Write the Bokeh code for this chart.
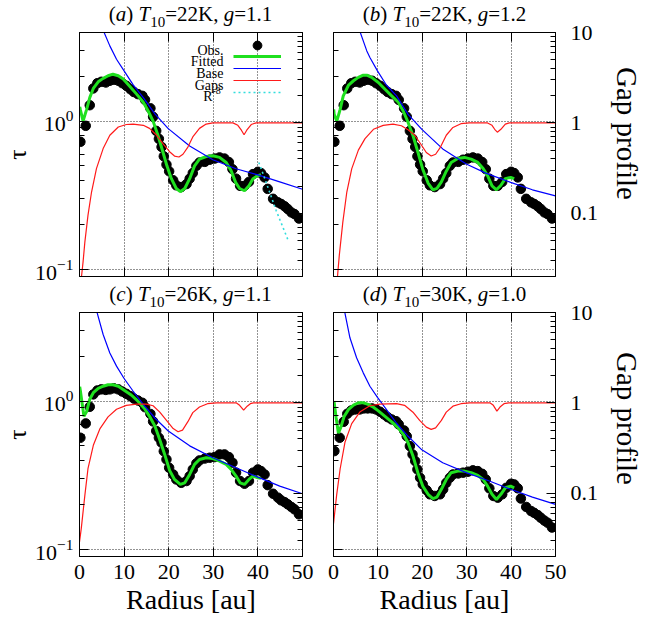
from bokeh.plotting import figure
from bokeh.layouts import column, row
from bokeh.models import (Range1d, LogScale, LogAxis, LinearAxis, FixedTicker,
                          CustomJSTickFormatter, Label, Legend, LegendItem, Div)
from bokeh.embed import file_html
from bokeh.resources import INLINE

SERIF = "Liberation Serif"

# ---------------------------------------------------------------- data
# radii of the observed optical-depth profile (au), same sampling for all fits
R_OBS = [0.2, 1.4, 2.3, 3.1, 4.0, 4.9, 5.9, 6.8, 7.7, 8.7,
         9.6, 10.5, 11.4, 12.2, 13.1, 14.1, 14.7, 15.9, 16.5, 17.2,
         17.8, 18.4, 18.9, 19.5, 20.1, 21.0, 21.7, 22.8, 24.0, 24.7,
         25.4, 26.2, 26.9, 28.1, 29.2, 30.3, 31.4, 32.5, 33.5, 34.3,
         35.1, 36.0, 37.0, 38.0, 38.9, 40.0, 40.7, 41.5, 42.2, 43.4,
         44.5, 45.2, 46.0, 46.7, 47.5, 48.2, 49.2]

# observed tau for T10 = 22 K (panels a, b), 26 K (c), 30 K (d)
TAU_OBS_22K = [0.726, 0.93, 1.28, 1.66, 1.80, 1.84, 1.82, 1.87, 1.90, 1.87,
               1.80, 1.73, 1.64, 1.57, 1.52, 1.48, 1.39, 1.22, 1.07, 0.86,
               0.76, 0.67, 0.58, 0.51, 0.46, 0.40, 0.37, 0.36, 0.377, 0.41,
               0.447, 0.50, 0.527, 0.532, 0.55, 0.56, 0.57, 0.56, 0.53, 0.475,
               0.41, 0.367, 0.367, 0.39, 0.44, 0.456, 0.447, 0.418, 0.35, 0.30,
               0.284, 0.277, 0.267, 0.256, 0.243, 0.237, 0.221]
TAU_OBS_26K = [0.567, 0.708, 0.916, 1.11, 1.18, 1.20, 1.19, 1.20, 1.22, 1.20,
               1.16, 1.12, 1.08, 1.04, 1.01, 0.975, 0.91, 0.82, 0.73, 0.63,
               0.567, 0.525, 0.46, 0.405, 0.356, 0.321, 0.297, 0.282, 0.29, 0.313,
               0.347, 0.381, 0.399, 0.411, 0.416, 0.42, 0.438, 0.438, 0.42, 0.385,
               0.33, 0.29, 0.278, 0.29, 0.33, 0.347, 0.338, 0.321, 0.272, 0.238,
               0.224, 0.215, 0.209, 0.202, 0.194, 0.187, 0.173]
TAU_OBS_30K = [0.461, 0.567, 0.726, 0.822, 0.865, 0.879, 0.879, 0.893, 0.893, 0.893,
               0.879, 0.848, 0.813, 0.78, 0.753, 0.733, 0.697, 0.635, 0.58, 0.498,
               0.438, 0.395, 0.347, 0.305, 0.275, 0.251, 0.236, 0.23, 0.236, 0.255,
               0.282, 0.305, 0.321, 0.326, 0.33, 0.335, 0.342, 0.338, 0.324, 0.297,
               0.259, 0.23, 0.224, 0.236, 0.261, 0.278, 0.275, 0.259, 0.221, 0.194,
               0.182, 0.177, 0.171, 0.164, 0.157, 0.152, 0.141]

# fitted profiles (Base x Gaps)
FIT_R_A = [0.05, 0.2, 0.8, 1.6, 2.3, 3.1, 4.2, 5.3, 6.4, 7.5, 8.7, 9.8, 11.3, 12.8,
           14.3, 15.4, 16.5, 17.6, 18.7, 19.6, 20.6, 21.7, 22.6, 23.6, 24.7, 25.8,
           26.9, 28.4, 29.9, 31.4, 32.9, 34.0, 35.0, 35.9, 37.0, 38.0, 38.9, 40.0, 40.7]
FIT_A = [1.25, 1.19, 1.0, 1.2, 1.44, 1.66, 1.84, 1.94, 2.02, 2.07, 2.02, 1.92, 1.71, 1.52,
         1.34, 1.17, 1.0, 0.80, 0.62, 0.50, 0.41, 0.352, 0.335, 0.352, 0.41, 0.50,
         0.555, 0.578, 0.585, 0.57, 0.527, 0.463, 0.387, 0.352, 0.34, 0.367, 0.41, 0.43, 0.436]
FIT_R_B = [0.05, 0.15, 0.75, 1.5, 2.2, 3.4, 4.5, 5.6, 6.7, 7.5, 8.6, 10.1, 11.6, 13.1,
           14.6, 15.7, 16.8, 17.9, 19.0, 20.1, 21.3, 22.4, 23.3, 24.3, 25.4, 26.5,
           28.0, 29.5, 31.0, 32.5, 33.7, 34.7, 35.7, 36.7, 37.7, 38.7, 39.9, 40.7]
FIT_B = [1.2, 1.11, 1.0, 1.2, 1.48, 1.75, 1.87, 1.97, 2.04, 2.04, 1.97, 1.82, 1.64, 1.48,
         1.34, 1.17, 0.98, 0.80, 0.62, 0.475, 0.383, 0.345, 0.353, 0.39, 0.46, 0.527,
         0.56, 0.57, 0.555, 0.527, 0.48, 0.43, 0.367, 0.345, 0.37, 0.41, 0.418, 0.41]
FIT_R_C = [0.05, 0.2, 1.0, 1.6, 2.3, 3.1, 4.2, 5.3, 6.4, 7.5, 8.7, 10.1, 11.6, 13.1,
           14.6, 15.7, 16.9, 18.0, 19.1, 20.2, 21.3, 22.6, 23.6, 24.7, 25.8, 26.9,
           28.4, 29.9, 31.4, 32.9, 34.0, 35.1, 36.0, 37.0, 38.0, 38.9, 40.0, 40.7]
FIT_C = [1.25, 1.17, 0.79, 0.85, 1.03, 1.14, 1.22, 1.26, 1.29, 1.29, 1.26, 1.18, 1.10, 1.0,
         0.89, 0.79, 0.68, 0.55, 0.438, 0.342, 0.297, 0.275, 0.282, 0.321, 0.375, 0.405,
         0.416, 0.411, 0.395, 0.375, 0.347, 0.313, 0.282, 0.275, 0.297, 0.313, 0.305, 0.302]
FIT_R_D = [0.05, 0.15, 0.6, 1.1, 1.6, 2.4, 3.4, 4.5, 5.6, 6.7, 7.8, 9.0, 10.1, 11.6,
           13.1, 14.6, 15.7, 16.8, 17.9, 19.0, 20.1, 21.3, 22.4, 23.3, 24.3, 25.4,
           26.5, 28.0, 29.5, 31.0, 32.5, 33.7, 34.7, 35.7, 36.7, 37.7, 38.7, 39.9, 40.7]
FIT_D = [1.0, 0.98, 0.77, 0.61, 0.66, 0.79, 0.88, 0.94, 0.975, 0.975, 0.95, 0.91, 0.86, 0.79,
         0.726, 0.66, 0.60, 0.525, 0.427, 0.33, 0.268, 0.236, 0.221, 0.226, 0.255, 0.297,
         0.33, 0.338, 0.338, 0.33, 0.316, 0.297, 0.268, 0.236, 0.218, 0.236, 0.261, 0.268, 0.261]

# smooth base profiles
BASE_R_A = [5.0, 6.8, 8.3, 10.0, 12.0, 14.3, 16.9, 19.9, 24.7, 29.9, 35.1, 40.0, 44.9, 50.0]
BASE_A = [4.3, 3.21, 2.61, 2.18, 1.76, 1.44, 1.12, 0.89, 0.68, 0.55, 0.478, 0.435, 0.39, 0.348]
BASE_R_B = [5.6, 7.5, 8.2, 9.9, 11.9, 14.2, 16.8, 19.9, 24.6, 29.9, 34.3, 39.9, 44.8, 50.0]
BASE_B = [4.3, 2.97, 2.68, 2.18, 1.75, 1.48, 1.11, 0.88, 0.65, 0.514, 0.447, 0.387, 0.345, 0.314]
BASE_R_C = [3.6, 5.3, 6.8, 8.3, 10.0, 12.0, 14.3, 16.9, 19.9, 24.7, 29.9, 35.1, 40.0, 44.9, 50.0]
BASE_C = [4.3, 2.81, 2.11, 1.72, 1.42, 1.17, 0.95, 0.77, 0.63, 0.50, 0.416, 0.356, 0.308, 0.268, 0.238]
BASE_R_D = [2.3, 3.7, 5.2, 6.7, 8.2, 9.9, 11.9, 14.2, 16.8, 19.9, 24.6, 29.9, 35.1, 39.9, 44.8, 50.0]
BASE_D = [4.3, 2.67, 1.96, 1.55, 1.26, 1.06, 0.88, 0.71, 0.58, 0.47, 0.385, 0.33, 0.29, 0.255, 0.226, 0.202]

# gap profiles (right-hand axis)
GAP_R_A = [0.3, 0.45, 0.8, 1.2, 1.9, 2.7, 3.8, 5.3, 6.8, 8.7, 10.5, 12.0, 14.3, 15.7, 17.2,
           18.7, 20.2, 21.3, 22.3, 23.2, 24.3, 25.4, 26.9, 28.4, 29.9, 34.4, 35.5, 36.3,
           36.9, 37.5, 38.5, 39.6, 50.0]
GAP_A = [0.012, 0.02, 0.029, 0.048, 0.095, 0.172, 0.312, 0.52, 0.73, 0.90, 0.96, 0.97, 0.94,
         0.87, 0.74, 0.59, 0.48, 0.43, 0.42, 0.45, 0.54, 0.70, 0.87, 0.97, 1.0, 1.0, 0.94,
         0.83, 0.74, 0.83, 0.96, 1.0, 1.0]
GAP_R_B = [0.7, 0.9, 1.3, 2.1, 3.0, 4.1, 5.6, 7.1, 9.0, 11.2, 13.4, 15.3, 16.8, 18.3, 19.8,
           20.9, 22.0, 23.0, 24.1, 25.4, 26.9, 28.7, 30.6, 34.7, 35.7, 36.3, 36.9, 37.7,
           38.7, 39.6, 50.0]
GAP_B = [0.014, 0.02, 0.034, 0.080, 0.172, 0.31, 0.50, 0.67, 0.85, 0.94, 0.97, 0.93, 0.84,
         0.73, 0.57, 0.47, 0.43, 0.45, 0.54, 0.73, 0.89, 0.98, 1.0, 1.0, 0.94, 0.85, 0.79,
         0.85, 0.97, 1.0, 1.0]
GAP_R_C = [0.0, 0.4, 1.2, 1.9, 3.1, 4.6, 6.4, 8.3, 10.5, 12.8, 15.0, 16.5, 18.0, 19.5, 21.0,
           22.1, 23.1, 24.3, 25.4, 26.9, 28.7, 30.7, 35.2, 35.9, 36.8, 37.6, 38.3, 39.0, 50.0]
GAP_C = [0.029, 0.041, 0.095, 0.187, 0.34, 0.52, 0.70, 0.85, 0.94, 0.97, 0.97, 0.93, 0.79,
         0.64, 0.52, 0.48, 0.50, 0.62, 0.78, 0.90, 0.98, 1.0, 1.0, 0.94, 0.83, 0.92, 0.98,
         1.0, 1.0]
GAP_R_D = [0.0, 0.7, 1.5, 2.6, 4.1, 6.0, 8.2, 10.4, 14.2, 16.0, 17.9, 19.4, 20.9, 22.0, 23.0,
           24.3, 25.4, 26.9, 28.7, 30.7, 35.3, 36.0, 36.8, 37.5, 38.4, 39.5, 50.0]
GAP_D = [0.046, 0.095, 0.187, 0.37, 0.59, 0.80, 0.93, 0.97, 0.98, 0.94, 0.79, 0.64, 0.54,
         0.51, 0.53, 0.64, 0.79, 0.92, 0.98, 1.0, 1.0, 0.94, 0.81, 0.90, 0.98, 1.0, 1.0]

# steep R^-8 outer edge shown in panel (a)
R8_R = [40.2, 41.3, 44.1, 46.7]
R8_TAU = [0.527, 0.43, 0.25, 0.16]

PANEL_TAGS = ["a", "b", "c", "d"]
PANEL_T10 = [22, 22, 26, 30]
PANEL_G = ["1.1", "1.2", "1.1", "1.0"]

X_TICKS = [0, 10, 20, 30, 40, 50]
TAU_TICKS = [0.1, 1]
TAU_MINOR = [0.2, 0.3, 0.4, 0.5, 0.6, 0.7, 0.8, 0.9, 2, 3]
GAP_TICKS = [0.1, 1, 10]
GAP_MINOR = [0.03, 0.04, 0.05, 0.06, 0.07, 0.08, 0.09,
             0.2, 0.3, 0.4, 0.5, 0.6, 0.7, 0.8, 0.9,
             2, 3, 4, 5, 6, 7, 8, 9]

# ---------------------------------------------------------------- layout
TAU_LO, TAU_HI = 0.09, 3.95
GAP_LO, GAP_HI = 0.02, 10.0
FRAME_W, FRAME_H = 223, 244
LEFT_W, RIGHT_W, GAPLABEL_W = 318, 283, 45
BORDER_TOP = 12
BORDER_BOTTOM = [8, 72]
TITLE_H = [20, 16]
TITLE_PAD = [4, 0]
GAPLABEL_PAD = [47, 52]

GREEN = "#1fe01f"
BLUE = "#0000ff"
RED = "#ff1a1a"
CYAN = "#33dddd"


def blank_formatter():
    return CustomJSTickFormatter(code="return ''")


def style_axis(ax, show_labels, size="22px", standoff=8):
    ax.major_tick_in = 9
    ax.major_tick_out = 0
    ax.minor_tick_in = 5
    ax.minor_tick_out = 0
    ax.axis_line_color = "black"
    ax.major_tick_line_color = "black"
    ax.minor_tick_line_color = "black"
    if show_labels:
        ax.major_label_text_font = SERIF
        ax.major_label_text_font_size = size
        ax.major_label_text_color = "black"
        ax.major_label_standoff = standoff
    else:
        ax.formatter = blank_formatter()
        ax.major_label_text_font_size = "1px"
        ax.major_label_standoff = 0


def style_axis_label(ax, text, size, standoff):
    ax.axis_label = text
    ax.axis_label_text_font = SERIF
    ax.axis_label_text_font_size = size
    ax.axis_label_text_font_style = "normal"
    ax.axis_label_text_color = "black"
    ax.axis_label_standoff = standoff


def title_div(i, width, left_pad):
    rw = i // 2
    html = ('<div style="width:%dpx; margin-left:%dpx; padding-top:%dpx; text-align:center; '
            'font-family:\'Liberation Serif\'; font-size:21px; line-height:21px; '
            'white-space:nowrap; color:black">'
            '(<i>%s</i>) <i>T</i><span style="font-size:15px; position:relative; top:6px">10</span>'
            '=%dK, <i>g</i>=%s</div>') % (FRAME_W, left_pad, TITLE_PAD[rw], PANEL_TAGS[i],
                                          PANEL_T10[i], PANEL_G[i])
    return Div(text=html, width=width, height=TITLE_H[rw], margin=0,
               styles={"overflow": "visible"})


def gap_label_div(rw, height):
    html = ('<div style="writing-mode:vertical-rl; font-family:\'Liberation Serif\'; '
            'font-size:29px; line-height:32px; padding-top:%dpx; padding-left:10px; '
            'white-space:nowrap; color:black">Gap profile</div>') % GAPLABEL_PAD[rw]
    return Div(text=html, width=GAPLABEL_W, height=height, margin=0,
               styles={"overflow": "visible"})


def make_panel(i, obs, fit_r, fit, base_r, base, gap_r, gap):
    col, rw = i % 2, i // 2
    left = 79 if col == 0 else 15
    right = LEFT_W - FRAME_W - left if col == 0 else RIGHT_W - FRAME_W - left
    top = BORDER_TOP
    bottom = BORDER_BOTTOM[rw]

    p = figure(width=left + FRAME_W + right, height=top + FRAME_H + bottom,
               x_range=Range1d(0, 50), y_range=Range1d(TAU_LO, TAU_HI),
               y_axis_type="log", title=None, output_backend="svg", toolbar_location=None,
               min_border_left=left, min_border_right=right,
               min_border_top=top, min_border_bottom=bottom)
    p.extra_y_ranges = {"gap": Range1d(GAP_LO, GAP_HI)}
    p.extra_y_scales = {"gap": LogScale()}
    p.outline_line_color = "black"
    p.outline_line_width = 1
    p.background_fill_color = "white"
    p.border_fill_alpha = 0

    # bottom radius axis
    xa = p.xaxis[0]
    xa.ticker = FixedTicker(ticks=X_TICKS)
    style_axis(xa, rw == 1, standoff=8)
    xa.minor_tick_in = 0
    if rw == 1:
        style_axis_label(xa, "Radius [au]", "28px", 2)

    # mirrored ticks along the top
    xt = LinearAxis(ticker=FixedTicker(ticks=X_TICKS))
    style_axis(xt, False)
    xt.minor_tick_in = 0
    p.add_layout(xt, "above")

    # tau axis
    ya = p.yaxis[0]
    ya.ticker = FixedTicker(ticks=TAU_TICKS, minor_ticks=TAU_MINOR)
    style_axis(ya, col == 0, standoff=6)
    if col == 0:
        style_axis_label(ya, "τ", "26px", 0)

    # gap-profile axis
    yg = LogAxis(y_range_name="gap",
                 ticker=FixedTicker(ticks=GAP_TICKS, minor_ticks=GAP_MINOR),
                 formatter=CustomJSTickFormatter(code="return tick.toString()"))
    style_axis(yg, col == 1, standoff=15)
    p.add_layout(yg, "right")

    p.xgrid.ticker = FixedTicker(ticks=[10, 20, 30, 40])
    p.ygrid.ticker = FixedTicker(ticks=TAU_TICKS)
    for gr in (p.xgrid, p.ygrid):
        gr.grid_line_color = "black"
        gr.grid_line_dash = "1 2"
        gr.grid_line_width = 1
        gr.grid_line_alpha = 0.85

    r_obs = p.scatter(R_OBS, obs, size=9.5, marker="circle", fill_color="black",
                      line_color="black")
    r_fit = p.line(fit_r, fit, line_color=GREEN, line_width=3)
    r_base = p.line(base_r, base, line_color=BLUE, line_width=1.2)
    r_gap = p.line(gap_r, gap, line_color=RED, line_width=1.2, y_range_name="gap")

    if i == 0:
        r_r8 = p.line(R8_R, R8_TAU, line_color=CYAN, line_width=1.6, line_dash="2 3")
        common = dict(padding=0, margin=0, spacing=0, label_standoff=0, label_width=1,
                      glyph_width=48, border_line_color=None, background_fill_alpha=0,
                      label_text_font_size="6px")
        leg_obs = Legend(items=[LegendItem(label=" ", renderers=[r_obs])],
                         location=(154, 220), glyph_height=22, label_height=22, **common)
        leg_lines = Legend(items=[LegendItem(label=" ", renderers=[r_fit]),
                                  LegendItem(label=" ", renderers=[r_base]),
                                  LegendItem(label=" ", renderers=[r_gap]),
                                  LegendItem(label=" ", renderers=[r_r8])],
                           location=(154, 178), glyph_height=12, label_height=12, **common)
        p.add_layout(leg_obs)
        p.add_layout(leg_lines)
        for text, off in (("Obs.", -17.5), ("Fitted", -29), ("Base", -41), ("Gaps", -53)):
            p.add_layout(Label(x=0, y=TAU_HI, x_offset=144, y_offset=off, text=text,
                               text_font=SERIF, text_font_size="14px", text_align="right",
                               text_baseline="alphabetic", text_color="black"))
        p.add_layout(Label(x=0, y=TAU_HI, x_offset=133, y_offset=-64, text="R",
                           text_font=SERIF, text_font_size="14px", text_align="right",
                           text_baseline="alphabetic", text_color="black"))
        p.add_layout(Label(x=0, y=TAU_HI, x_offset=133, y_offset=-58, text="-8",
                           text_font=SERIF, text_font_size="10px", text_align="left",
                           text_baseline="alphabetic", text_color="black"))
    return p


pa = make_panel(0, TAU_OBS_22K, FIT_R_A, FIT_A, BASE_R_A, BASE_A, GAP_R_A, GAP_A)
pb = make_panel(1, TAU_OBS_22K, FIT_R_B, FIT_B, BASE_R_B, BASE_B, GAP_R_B, GAP_B)
pc = make_panel(2, TAU_OBS_26K, FIT_R_C, FIT_C, BASE_R_C, BASE_C, GAP_R_C, GAP_C)
pd = make_panel(3, TAU_OBS_30K, FIT_R_D, FIT_D, BASE_R_D, BASE_D, GAP_R_D, GAP_D)

layout = column(
    row(title_div(0, LEFT_W, 79), title_div(1, RIGHT_W + GAPLABEL_W, 15)),
    row(pa, pb, gap_label_div(0, pb.height)),
    row(title_div(2, LEFT_W, 79), title_div(3, RIGHT_W + GAPLABEL_W, 15)),
    row(pc, pd, gap_label_div(1, pd.height)),
)

open("out.html", "w").write(file_html(layout, INLINE))
